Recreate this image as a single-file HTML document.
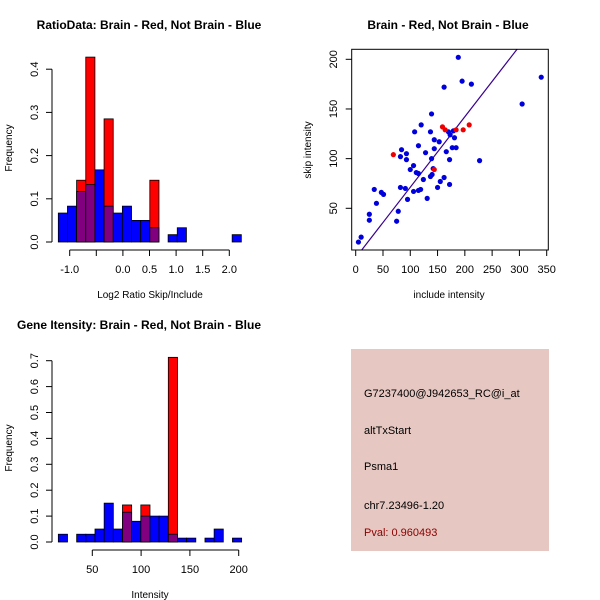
<!DOCTYPE html>
<html><head><meta charset="utf-8"><style>
body{margin:0;background:#fff}
svg{display:block;font-family:"Liberation Sans",sans-serif}
</style></head><body>
<svg id="c" width="600" height="600" viewBox="0 0 600 600">
<rect width="600" height="600" fill="#fff"/>
<g id="p1"></g>
<g id="p2"></g>
<g id="p3"></g>
<g>
<rect x="351" y="349" width="198" height="202" fill="#e6c7c1"/>
<g font-size="11" fill="#000">
<text x="364" y="397">G7237400@J942653_RC@i_at</text>
<text x="364" y="434">altTxStart</text>
<text x="364" y="470">Psma1</text>
<text x="364" y="509">chr7.23496-1.20</text>
<text x="364" y="536" fill="#8b0000">Pval: 0.960493</text>
</g></g>
</svg>
<script>
// Ratio histogram data
const ratioBinStart = -1.214;
const ratioBinWidth = 0.172;
const ratioBlue = [0.067,0.083,0.117,0.133,0.167,0.083,0.067,0.083,0.05,0.05,0.033,0,0.017,0.033,0,0,0,0,0,0.017];
const ratioRed = [0,0,0.143,0.428,0,0.285,0,0,0,0,0.143,0,0,0,0,0,0,0,0,0];
const ratioXTicks = [-1.0,-0.5,0.0,0.5,1.0,1.5,2.0];
const ratioXLabels = ["-1.0","","0.0","0.5","1.0","1.5","2.0"];
const ratioYTicks = [0,0.1,0.2,0.3,0.4];
// Gene intensity histogram data
const intBinStart = 15.2;
const intBinWidth = 9.39;
const intBlue = [0.03,0,0.03,0.03,0.05,0.15,0.05,0.115,0.08,0.1,0.1,0.1,0.03,0.015,0.015,0,0.015,0.05,0,0.015];
const intRed = [0,0,0,0,0,0,0,0.143,0,0.143,0,0,0.713,0,0,0,0,0,0,0];
const intXTicks = [50,100,150,200];
const intYTicks = [0,0.1,0.2,0.3,0.4,0.5,0.6,0.7];
// Scatter data
const blueX = [5,10,25,25,34,38,47,51,75,78,82,82,84,91,93,93,95,100,106,106,108,111,115,115,115,119,120,124,128,131,137,137,139,139,140,142,144,144,150,153,155,162,162,166,170,172,172,173,177,179,181,184,188,195,212,227,305,340];
const blueY = [16,21,44,38,69,55,66,64,37,47,71,102,109,70,105,99,59,89,93,67,127,86,85,113,68,69,134,79,106,60,127,82,145,100,84,90,119,110,71,117,77,172,81,107,127,99,74,124,111,128,121,111,202,178,175,98,155,182];
const redX = [69,144,159,164,184,197,208];
const redY = [104,89,132,129,129,129,134];
const fitSlope = 0.71, fitIntercept = 0.2;
const scXTicks = [0,50,100,150,200,250,300,350];
const scYTicks = [50,100,150,200];

const NS="http://www.w3.org/2000/svg";
function mk(parent,tag,attrs,text){const e=document.createElementNS(NS,tag);for(const k in attrs)e.setAttribute(k,attrs[k]);if(text!==undefined)e.textContent=text;parent.appendChild(e);return e;}

function hist(g,o){
  const sx=v=>o.x0px+(v-o.x0)*o.kx, sy=v=>o.y0px-v*o.ky;
  const t=mk(g,'text',{x:o.titleX,y:o.titleY,'text-anchor':'middle','font-size':12,'font-weight':'bold'},o.title);
  
  for(let i=0;i<o.blue.length;i++){
    const a=sx(o.binStart+i*o.binW), b=sx(o.binStart+(i+1)*o.binW);
    const r=o.red[i], bl=o.blue[i];
    if(r>0){const e=mk(g,'rect',{x:a,y:sy(r),width:b-a,height:sy(0)-sy(r),fill:'#ff0000',stroke:'#000','stroke-width':0.8});
      }
    if(bl>0){const col=r>0?'#800080':'#0000ff';
      const e=mk(g,'rect',{x:a,y:sy(bl),width:b-a,height:sy(0)-sy(bl),fill:(r>0&&bl>r)?'#0000ff':col,stroke:'#000','stroke-width':0.8});
      
      if(r>0&&bl>r){const m=mk(g,'rect',{x:a,y:sy(r),width:b-a,height:sy(0)-sy(r),fill:'#800080',stroke:'#000','stroke-width':0.8});
        }}
  }
  // y axis
  const yt=o.yTicks;
  const ya=mk(g,'line',{x1:o.yAxisX,x2:o.yAxisX,y1:sy(yt[0]),y2:sy(yt[yt.length-1]),stroke:'#000'});
  
  yt.forEach(v=>{mk(g,'line',{x1:o.yAxisX-6,x2:o.yAxisX,y1:sy(v),y2:sy(v),stroke:'#000'});
    const l=mk(g,'text',{x:0,y:0,transform:`translate(${o.yAxisX-14},${sy(v)}) rotate(-90)`,'text-anchor':'middle','font-size':11},v.toFixed(1));
    });
  const xt=o.xTicks;
  const xa=mk(g,'line',{x1:sx(xt[0]),x2:sx(xt[xt.length-1]),y1:o.xAxisY,y2:o.xAxisY,stroke:'#000'});
  
  xt.forEach((v,i)=>{mk(g,'line',{x1:sx(v),x2:sx(v),y1:o.xAxisY,y2:o.xAxisY+6,stroke:'#000'});
    const l=mk(g,'text',{x:sx(v),y:o.xAxisY+23,'text-anchor':'middle','font-size':11},o.xLabels[i]);
    });
  const xl=mk(g,'text',{x:o.xTitleX,y:o.xAxisY+48,'text-anchor':'middle','font-size':10},o.xTitle);
  
  const yl=mk(g,'text',{x:0,y:0,transform:`translate(12,${o.yTitleY}) rotate(-90)`,'text-anchor':'middle','font-size':10},'Frequency');
  
}
hist(document.getElementById('p1'),{x0:-1,x0px:69.7,kx:53.2,y0px:242,ky:432,binStart:ratioBinStart,binW:ratioBinWidth,
  blue:ratioBlue,red:ratioRed,xTicks:ratioXTicks,xLabels:ratioXLabels,yTicks:ratioYTicks,yAxisX:52,xAxisY:250,
  title:'RatioData: Brain - Red, Not Brain - Blue',titleX:149,titleY:29,xTitle:'Log2 Ratio Skip/Include',xTitleX:150,yTitleY:148});
hist(document.getElementById('p3'),{x0:50,x0px:92.3,kx:0.976,y0px:542,ky:259,binStart:intBinStart,binW:intBinWidth,
  blue:intBlue,red:intRed,xTicks:intXTicks,xLabels:intXTicks.map(String),yTicks:intYTicks,yAxisX:52,xAxisY:550,
  title:'Gene Itensity: Brain - Red, Not Brain - Blue',titleX:139,titleY:329,xTitle:'Intensity',xTitleX:150,yTitleY:448});

// scatter
(function(){
  const g=document.getElementById('p2');
  const sx=v=>355.7+v*0.5457, sy=v=>208.3-(v-50)*0.9933;
  const t=mk(g,'text',{x:448,y:29,'text-anchor':'middle','font-size':12,'font-weight':'bold'},'Brain - Red, Not Brain - Blue');
  
  const clip=mk(g,'clipPath',{id:'sc'});mk(clip,'rect',{x:351.7,y:49.3,width:196.6,height:200.7});
  const pts=mk(g,'g',{'clip-path':'url(#sc)'});
  const x1=-10,x2=400;
  const ln=mk(pts,'line',{x1:sx(x1),y1:sy(fitIntercept+fitSlope*x1),x2:sx(x2),y2:sy(fitIntercept+fitSlope*x2),stroke:'#3a0090','stroke-width':1.2});
  
  blueX.forEach((v,i)=>{const c=mk(pts,'circle',{cx:sx(v),cy:sy(blueY[i]),r:2.6,fill:'#0000dd'});
    });
  redX.forEach((v,i)=>{const c=mk(pts,'circle',{cx:sx(v),cy:sy(redY[i]),r:2.6,fill:'#ee0000'});
    });
  const box=mk(g,'rect',{x:351.7,y:49.3,width:196.6,height:200.7,fill:'none',stroke:'#000'});
  
  scXTicks.forEach(v=>{mk(g,'line',{x1:sx(v),x2:sx(v),y1:250,y2:256,stroke:'#000'});
    const l=mk(g,'text',{x:sx(v),y:273,'text-anchor':'middle','font-size':11},String(v));
    });
  scYTicks.forEach(v=>{mk(g,'line',{x1:345.7,x2:351.7,y1:sy(v),y2:sy(v),stroke:'#000'});
    const l=mk(g,'text',{x:0,y:0,transform:`translate(337,${sy(v)}) rotate(-90)`,'text-anchor':'middle','font-size':11},String(v));
    });
  const xl=mk(g,'text',{x:449,y:298,'text-anchor':'middle','font-size':10},'include intensity');
  
  const yl=mk(g,'text',{x:0,y:0,transform:`translate(311,150) rotate(-90)`,'text-anchor':'middle','font-size':10},'skip intensity');
  
})();
</script>
</body></html>
